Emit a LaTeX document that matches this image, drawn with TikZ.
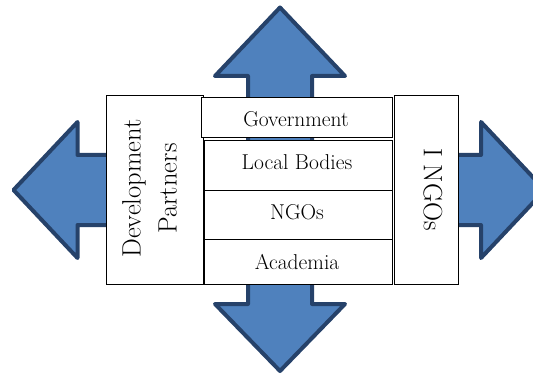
\documentclass[tikz,border=0pt]{standalone}
\definecolor{arrowfill}{HTML}{4F81BD}
\definecolor{arrowline}{HTML}{26426A}
\begin{document}
\begin{tikzpicture}[x=1pt,y=-1pt,
  arrowshape/.style={fill=arrowfill, draw=arrowline, line width=4pt, line join=round},
  box/.style={draw=black, fill=white, line width=1pt, inner sep=0pt, anchor=north west},
  midtext/.style={font=\fontsize{21.5}{25}\selectfont, inner sep=0pt},
  sidetext/.style={font=\fontsize{26.5}{36}\selectfont, align=center, inner sep=0pt}]
\clip (0,0) rectangle (533,377);
% arrows
\draw[arrowshape] (248,150) -- (248,76) -- (215,76) -- (280,7.5) -- (345,76) -- (312,76) -- (312,150) -- cycle;
\draw[arrowshape] (248,230) -- (248,304) -- (215,304) -- (280,371) -- (345,304) -- (312,304) -- (312,230) -- cycle;
\draw[arrowshape] (150,155) -- (77.5,155) -- (77.5,122) -- (13.5,190) -- (77.5,258) -- (77.5,225) -- (150,225) -- cycle;
\draw[arrowshape] (420,155) -- (481,155) -- (481,122) -- (545,190) -- (481,258) -- (481,225) -- (420,225) -- cycle;
% boxes
\node[box, minimum width=97pt, minimum height=188pt] (dp) at (106,95.5) {};
\node[box, minimum width=64.5pt, minimum height=188pt] (ingo) at (393.5,95.5) {};
\node[box, minimum width=191pt, minimum height=40pt] (gov) at (201,97) {};
\node[box, minimum width=188.5pt, minimum height=50pt] (lb) at (203.5,140) {};
\node[box, minimum width=188.5pt, minimum height=49pt] (ngo) at (203.5,190) {};
\node[box, minimum width=188.5pt, minimum height=44.5pt] (aca) at (203.5,239) {};
% texts
\node[midtext] (tgov) at (296,119) {Government};
\node[midtext] (tlb) at (297,162) {Local Bodies};
\node[midtext] (tngo) at (297,212) {NGOs};
\node[midtext] (taca) at (297,262) {Academia};
\node[sidetext, rotate=90] (tdp) at (149.5,188.5) {Development\\Partners};
\node[sidetext, rotate=-90] (tingo) at (433,189.5) {I NGOs};
\end{tikzpicture}
\end{document}
